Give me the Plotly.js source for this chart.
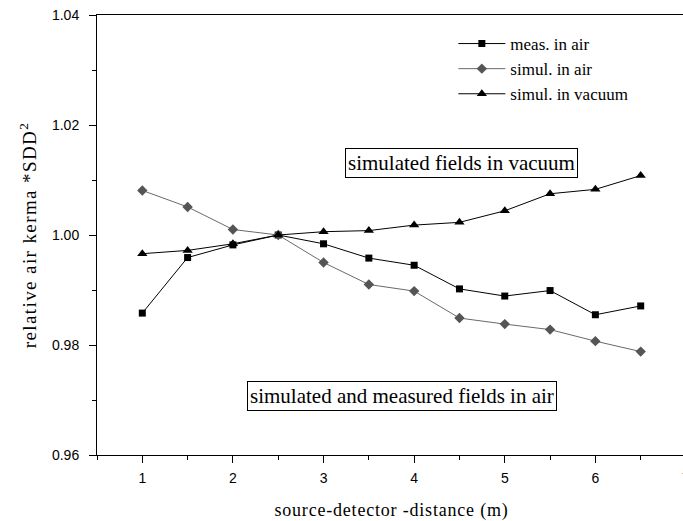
<!DOCTYPE html>
<html>
<head>
<meta charset="utf-8">
<script src="https://cdn.plot.ly/plotly-3.0.1.min.js"></script>
<style>
html,body{margin:0;padding:0;overflow:hidden;background:#fff;}
#chart{width:700px;height:521px;}
#chart .xtitle{letter-spacing:0.8px;}
#chart .ytitle{letter-spacing:1.4px;}
</style>
</head>
<body>
<div id="chart"></div>
<script>
const distance = [1, 1.5, 2, 2.5, 3, 3.5, 4, 4.5, 5, 5.5, 6, 6.5];
const measAir = [0.9858, 0.9959, 0.9982, 1.0000, 0.9984, 0.9958, 0.9945, 0.9902, 0.9889, 0.9899, 0.9855, 0.9871];
const simulAir = [1.0081, 1.0051, 1.0010, 1.0000, 0.9950, 0.9910, 0.9898, 0.9849, 0.9838, 0.9828, 0.9807, 0.9788];
const simulVacuum = [0.9966, 0.9972, 0.9984, 1.0000, 1.0006, 1.0008, 1.0018, 1.0023, 1.0044, 1.0075, 1.0083, 1.0108];
const seriesNames = ["meas. in air", "simul. in air", "simul. in vacuum"];
const annVacuum = "simulated fields in vacuum";
const annAir = "simulated and measured fields in air";
const xTitle = "source-detector -distance (m)";
const yTitle = "relative air kerma *SDD<sup>2</sup>";

const serif = "Liberation Serif";
const sans = "Liberation Sans";

const traces = [
  {x: distance, y: measAir, name: seriesNames[0], mode: "lines+markers",
   line: {color: "#000", width: 1}, marker: {symbol: "square", size: 7, color: "#000"}},
  {x: distance, y: simulAir, name: seriesNames[1], mode: "lines+markers",
   line: {color: "#6a6a6a", width: 1}, marker: {symbol: "diamond", size: 8, color: "#555"}},
  {x: distance, y: simulVacuum, name: seriesNames[2], mode: "lines+markers",
   line: {color: "#000", width: 1}, marker: {symbol: "triangle-up", size: 9, color: "#000"}}
];

const layout = {
  width: 700, height: 521,
  margin: {l: 97, r: 14, t: 15, b: 66},
  paper_bgcolor: "#fff", plot_bgcolor: "#fff",
  showlegend: true,
  legend: {x: 0.605, y: 0.975, xanchor: "left", yanchor: "top", bgcolor: "rgba(0,0,0,0)",
           font: {family: serif, size: 17, color: "#000"}, itemwidth: 47, tracegroupgap: 0},
  xaxis: {range: [0.5, 7.0], showgrid: false, zeroline: false,
          showline: true, linecolor: "#000", linewidth: 1, mirror: true,
          ticks: "outside", ticklen: 7, tickcolor: "#000", dtick: 1, tick0: 0,
          ticklabelstandoff: 3,
          minor: {dtick: 0.5, ticks: "outside", ticklen: 4, tickcolor: "#000", showgrid: false},
          tickfont: {family: sans, size: 14, color: "#000"},
          title: {text: xTitle, font: {family: serif, size: 18, color: "#000"}, standoff: 18}},
  yaxis: {range: [0.96, 1.04], showgrid: false, zeroline: false,
          showline: true, linecolor: "#000", linewidth: 1, mirror: true,
          ticks: "outside", ticklen: 7, tickcolor: "#000", dtick: 0.02, tick0: 0.96, tickformat: ".2f",
          ticklabelstandoff: 7,
          minor: {dtick: 0.01, ticks: "outside", ticklen: 4, tickcolor: "#000", showgrid: false},
          tickfont: {family: sans, size: 14, color: "#000"},
          title: {text: yTitle, font: {family: serif, size: 19, color: "#000"}, standoff: 10}},
  annotations: [
    {xref: "paper", yref: "paper", x: 0.618, y: 0.664, xanchor: "center", yanchor: "middle",
     text: annVacuum, showarrow: false,
     font: {family: serif, size: 21, color: "#000"}, bordercolor: "#000", borderwidth: 1, borderpad: 2, bgcolor: "#fff"},
    {xref: "paper", yref: "paper", x: 0.517, y: 0.134, xanchor: "center", yanchor: "middle",
     text: annAir, showarrow: false,
     font: {family: serif, size: 21, color: "#000"}, bordercolor: "#000", borderwidth: 1, borderpad: 2, bgcolor: "#fff"}
  ]
};

Plotly.newPlot("chart", traces, layout, {displayModeBar: false, staticPlot: true});
</script>
</body>
</html>
